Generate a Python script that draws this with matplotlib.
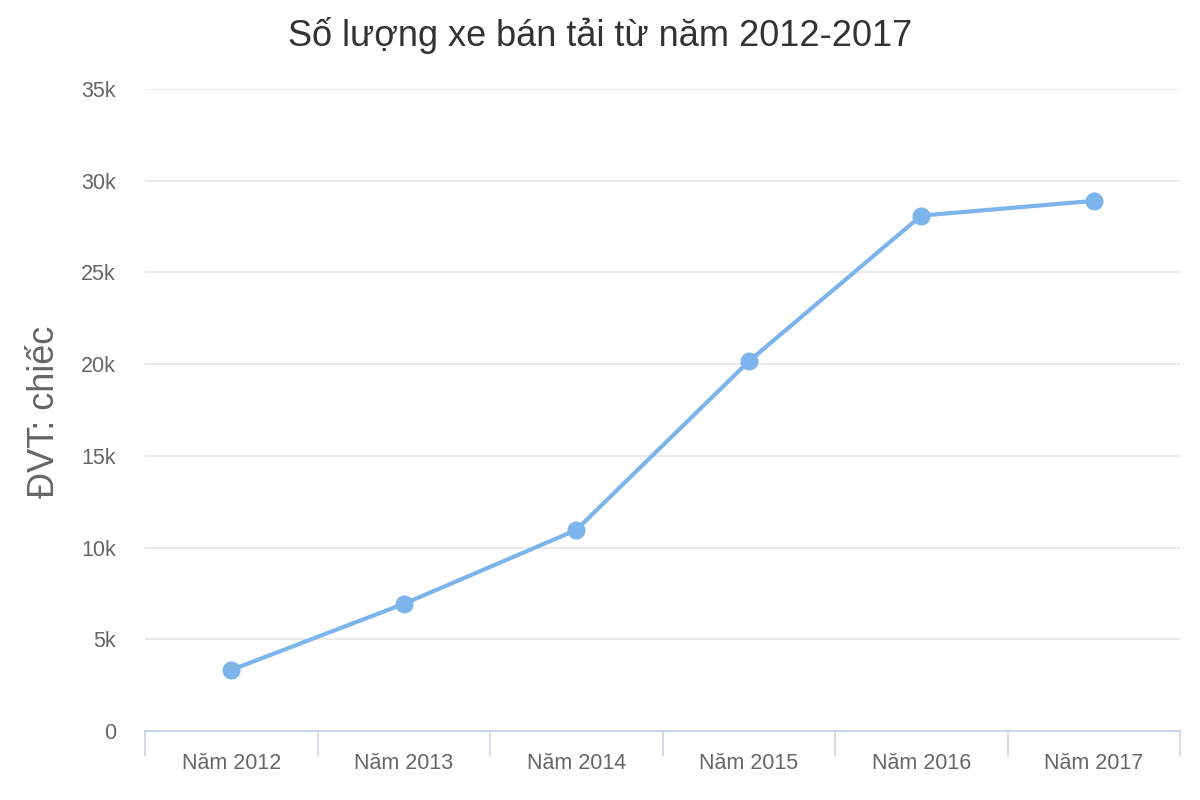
import matplotlib.pyplot as plt
from matplotlib.ticker import FuncFormatter

plt.rcParams['font.family'] = ['Liberation Sans', 'DejaVu Sans']

years = ['Năm 2012', 'Năm 2013', 'Năm 2014', 'Năm 2015', 'Năm 2016', 'Năm 2017']
sales = [3330, 6930, 10960, 20150, 28100, 28900]

fig = plt.figure(figsize=(12, 8), dpi=100)
ax = fig.add_axes([145 / 1200, 1 - 731 / 800, 1035 / 1200, (731 - 89) / 800])

x = list(range(len(years)))
ax.plot(x, sales, color='#7cb5ec', linewidth=3, marker='o', markersize=12, zorder=3)

ax.set_xlim(-0.5, len(years) - 0.5)
ax.set_ylim(0, 35000)
ax.set_yticks(range(0, 35001, 5000))
ax.yaxis.set_major_formatter(FuncFormatter(lambda v, p: '0' if v == 0 else f'{int(v / 1000)}k'))
ax.grid(axis='y', color='#e6e6e6', linewidth=1.2)
ax.set_axisbelow(True)

# category labels centered, tick marks between categories
ax.set_xticks(x)
ax.set_xticklabels(years)
ax.set_xticks([i - 0.5 for i in range(len(years) + 1)], minor=True)
ax.tick_params(axis='x', which='major', length=0, pad=16, labelsize=15.5, labelcolor='#666666')
ax.tick_params(axis='x', which='minor', length=18, width=1.2, color='#ccd6eb', direction='out')
ax.tick_params(axis='y', length=0, pad=21, labelsize=15.5, labelcolor='#666666')

for s in ['top', 'right', 'left']:
    ax.spines[s].set_visible(False)
ax.spines['bottom'].set_color('#ccd6eb')
ax.spines['bottom'].set_linewidth(1.5)

fig.text(45 / 1200, 1 - 412 / 800, 'ĐVT: chiếc', rotation=90, ha='center', va='center',
         fontsize=26, color='#666666')
fig.text(0.5, 1 - 35 / 800, 'Số lượng xe bán tải từ năm 2012-2017', ha='center', va='center',
         fontsize=26, color='#333333')

fig.savefig('out.png', dpi=100, facecolor='white')
